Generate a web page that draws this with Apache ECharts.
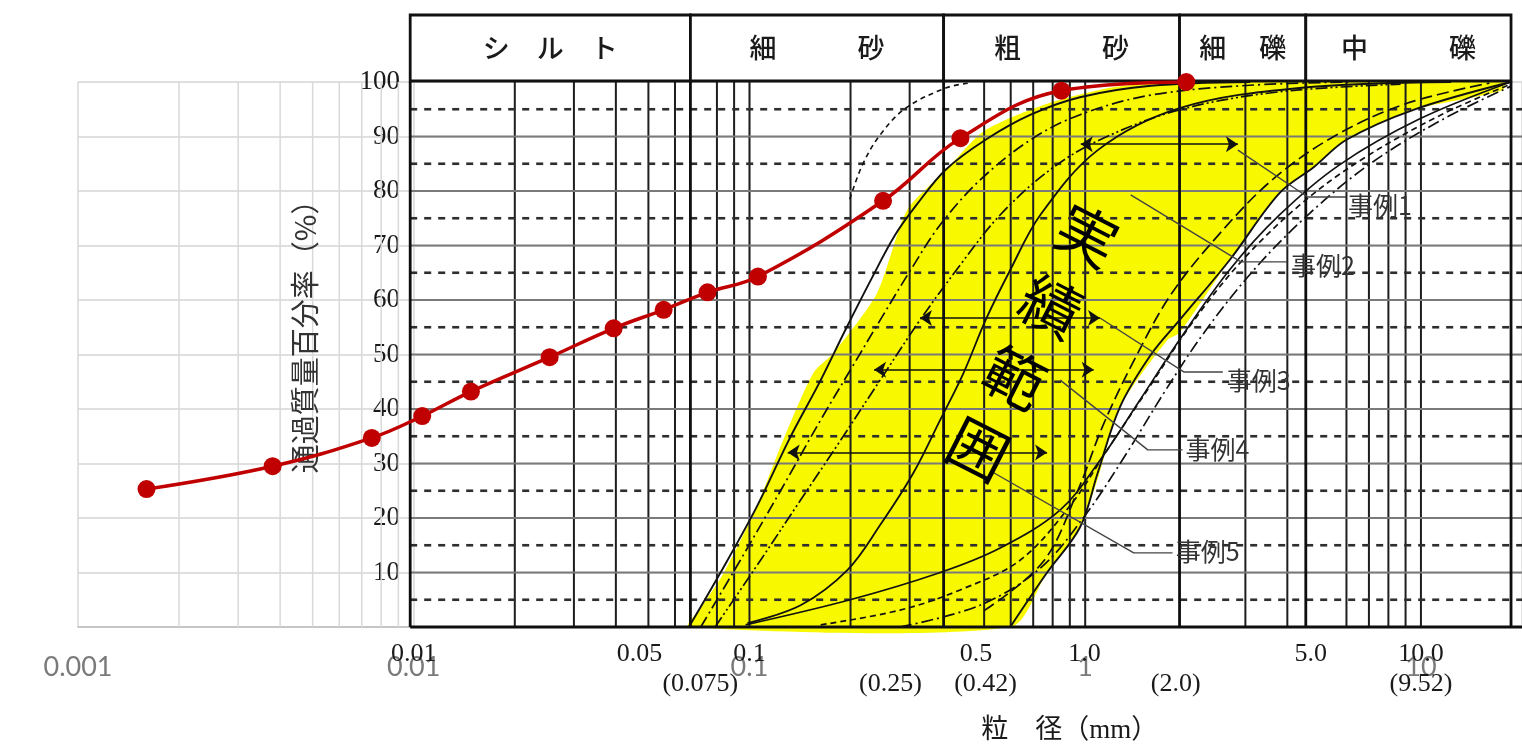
<!DOCTYPE html>
<html><head><meta charset="utf-8">
<script src="https://cdn.jsdelivr.net/npm/echarts@6/dist/echarts.min.js"></script>
<style>html,body{margin:0;padding:0;background:#fff}#c{width:1522px;height:747px}</style>
</head><body><div id="c"></div>
<script>
// ---------------- DATA ----------------
const X_MIN = 0.001, X_MAX = 20;

// measured sample (red line): particle size (mm) / percent passing
const sampleSize    = [0.0016,0.0038,0.0075,0.0106,0.0148,0.0254,0.0394,0.0555,0.075,0.106,0.25,0.425,0.85,2.0];
const samplePassing = [25.3,29.5,34.7,38.7,43.2,49.5,54.8,58.2,61.4,64.3,78.2,89.7,98.4,100];

// yellow "実績範囲" band outline (left edge up, top, right edge down)
const bandSize    = [0.066,0.072,0.084,0.105,0.126,0.155,0.178,0.24,0.295,0.386,0.5,0.77,1.2,1.9,3.1,3.4,9,15,17.8,17.5,9.5,6.0,4.8,3.79,2.69,1.91,1.76,1.27,1.1,0.965,0.77,0.6];
const bandPassing = [0,3.7,10,22,34.3,46.6,50.3,61.3,76.5,83.9,91,96,99,100,100,101.5,101.5,101.5,100.5,98.5,94.9,89.4,84.4,79.6,67.3,54,52.7,40.4,28,18.3,10,0];

// case curves (事例): [size mm, passing %]
const curveLeftSolid   = [[0.066,0],[0.082,10],[0.105,22],[0.131,34.3],[0.163,45.3],[0.193,54.5],[0.23,63.7],[0.272,72],[0.314,77.4],[0.384,83.9],[0.505,89.4],[0.688,94],[0.965,97.2],[1.57,99.3],[3.1,100]];
const curveFineDashed  = [[0.199,78.5],[0.217,84.8],[0.245,90.3],[0.292,95.2],[0.384,98.9],[0.45,99.8]];
const curveDashDot1    = [[0.0716,0],[0.094,12.3],[0.124,25.1],[0.163,38],[0.2,47.2],[0.245,56.3],[0.302,65.5],[0.37,73.8],[0.486,82],[0.688,89.4],[0.965,94],[1.57,97.6],[3.09,99.4],[6.2,100]];
const curveDashDot2    = [[0.079,0],[0.108,12.3],[0.142,23.3],[0.187,34.3],[0.245,45.3],[0.322,56.3],[0.424,66.4],[0.558,75.6],[0.786,83.9],[1.107,89.4],[1.91,94.9],[3.79,98.2],[8.7,99.6]];
const curveMidSolid    = [[0.0986,0.7],[0.142,4],[0.196,10.5],[0.245,18.7],[0.308,28.3],[0.37,38],[0.434,46.6],[0.505,56.3],[0.598,65.5],[0.735,75.6],[1.09,87.5],[1.91,95.2],[4.35,98.9],[12.3,100]];
const curveLowSolid    = [[0.0974,0.4],[0.1995,5],[0.37,10],[0.558,14.5],[0.843,21.5],[1.107,30.6],[1.454,41.6],[1.91,52.7],[2.69,65.5],[3.79,75.6],[5.72,84.8],[9.89,93.2],[18.5,100]];
const curveRightDashed = [[0.163,0.4],[0.281,3.1],[0.424,6.8],[0.641,12.3],[0.905,22.4],[1.19,33.4],[1.567,44.4],[2.06,55.4],[2.91,67],[4.35,77.4],[6.63,85.7],[11.5,94],[18.5,99.6]];
const curveRightLong   = [[0.5,3],[0.75,12],[0.95,25],[1.13,37],[1.4,49],[1.8,61],[2.5,72],[3.6,82],[5.5,90],[9,96],[16,99.8]];
const curveRightDashDot= [[0.281,0],[0.486,4],[0.735,10.8],[1.003,20.6],[1.32,31.6],[1.738,43.5],[2.29,54.5],[3.22,65.9],[4.7,76.1],[7.1,85.1],[11.5,93],[18.5,99.2]];
const curveRightSolid  = [[0.598,0],[0.77,10],[0.965,18.3],[1.09,28.3],[1.27,40.4],[1.567,49.9],[1.91,56.3],[2.69,67.3],[3.79,79.6],[4.8,84.4],[6.0,89.4],[9.5,94.9],[18.5,100]];

// double-headed range arrows
const arrowY    = [88.6, 56.7, 47.2, 32.0];
const arrowFrom = [0.97, 0.322, 0.235, 0.13];
const arrowTo   = [2.85, 1.107, 1.06, 0.77];

// 事例 labels and leader lines
const caseNames = ['事例1','事例2','事例3','事例4','事例5'];
const caseLabelX = [6.06, 4.10, 2.64, 1.99, 1.86];
const caseLabelY = [77.4, 66.4, 45.3, 32.5, 13.8];
const leader1 = [[2.85,87.5],[4.6,78.9],[5.98,78.9]];
const leader2 = [[1.366,79.3],[2.91,67.0],[4.0,67.0]];
const leader3 = [[1.107,56.7],[1.966,46.8],[2.57,46.8]];
const leader4 = [[0.843,45.3],[1.536,32.5],[1.95,32.5]];
const leader5 = [[0.534,28.3],[1.395,13.6],[1.82,13.6]];

// grid lines of the scanned chart
const excelMinorX = [0.002,0.003,0.004,0.005,0.006,0.007,0.008,0.009];
const scanMinorX  = [0.02,0.03,0.04,0.05,0.06,0.08,0.09,0.1,0.2,0.3,0.5,0.6,0.7,0.8,0.9,1,3,4,6,7,8,9,10];
const zoneBounds  = [0.00976,0.0667,0.3787,1.91,4.54,18.55];
const zoneNames   = ['シ　ル　ト','細　　　砂','粗　　　砂','細　 礫','中　　　礫'];
const scanSolidY  = [10,20,30,40,50,60,70,80,90];
const scanDashY   = [5,15,25,35,45,55,65,75,85,95];

// tick labels
const excelTickValues = [0.001,0.01,0.1,1,10];
const excelTickText   = ['0.001','0.01','0.1','1','10'];
const scanRow1Values  = [0.01,0.047,0.1,0.473,0.996,4.7,10];
const scanRow1Text    = ['0.01','0.05','0.1','0.5','1.0','5.0','10.0'];
const scanRow2Values  = [0.0714,0.263,0.505,1.86,10.0];
const scanRow2Text    = ['(0.075)','(0.25)','(0.42)','(2.0)','(9.52)'];

// titles / big annotation
const yTitle = '通過質量百分率（%）';
const yTitlePos = [0.00475, 54.6];
const xTitle = '粒　径（mm）';
const xTitlePos = [0.899, -19.0];
const rangeText = '実\n績\n範\n囲';
const rangeTextPos = [0.698, 52.3];

// ---------------- CHART ----------------
const chart = echarts.init(document.getElementById('c'));

function labelFor(v, vals, texts) {
  let best = 0, bd = Infinity;
  vals.forEach((x, i) => { const d = Math.abs(Math.log10(x) - Math.log10(v)); if (d < bd) { bd = d; best = i; } });
  return texts[best];
}

const segs = [];
excelMinorX.forEach(x => segs.push([x, 0, x, 100, 0]));
scanMinorX.forEach(x => segs.push([x, 0, x, 100, 1]));
scanSolidY.forEach(y => segs.push([zoneBounds[0], y, X_MAX, y, 2]));
scanDashY.forEach(y => segs.push([zoneBounds[0], y, X_MAX, y, 3]));
zoneBounds.forEach(x => segs.push([x, 0, x, 100, 4]));
segs.push([zoneBounds[0], 0, X_MAX, 0, 5]);
const segStyles = [
  {stroke:'#d9d9d9', lineWidth:1.5},
  {stroke:'#1e1e1e', lineWidth:2},
  {stroke:'#7a7a7a', lineWidth:2},
  {stroke:'#2e2e2e', lineWidth:2.6, lineDash:[7,7]},
  {stroke:'#0e0e0e', lineWidth:2.8},
  {stroke:'#0e0e0e', lineWidth:3.2}
];

function curve(data, dash, width) {
  return {type:'line', xAxisIndex:0, yAxisIndex:0, data, smooth:0.35, symbol:'none', showSymbol:false,
    lineStyle:{color:'#111', width: width || 1.7, type: dash}, z:4, silent:true};
}
function leader(data) {
  return {type:'line', xAxisIndex:0, yAxisIndex:0, data, smooth:false, symbol:'none', showSymbol:false,
    lineStyle:{color:'#444', width:1.4}, z:4, silent:true};
}
function textSeries(items, font, fill, rot, align, z) {
  return {type:'custom', xAxisIndex:0, yAxisIndex:0, silent:true, z: z || 6,
    data: items.map((it, i) => [it[0], it[1], i]),
    renderItem: (params, api) => {
      const p = api.coord([api.value(0), api.value(1)]);
      const it = items[api.value(2)];
      return {type:'text', x:p[0], y:p[1], rotation: rot * Math.PI / 180,
        style:{text: it[2], font, fill, align: align || 'center', verticalAlign:'middle', lineHeight: it[3] || undefined}};
    }};
}

const option = {
  animation: false,
  backgroundColor: '#ffffff',
  grid: [
    {left:78, right:0, top:82, height:545, containLabel:false, outerBoundsMode:'none'},
    {left:78, right:0, top:15, height:66, containLabel:false, outerBoundsMode:'none'}
  ],
  xAxis: [
    {gridIndex:0, type:'log', logBase:10, min:X_MIN, max:X_MAX, position:'bottom',
      axisLine:{show:true, lineStyle:{color:'#bfbfbf', width:1.5}}, axisTick:{show:false},
      splitLine:{show:true, lineStyle:{color:'#d9d9d9', width:1.5}}, minorSplitLine:{show:false},
      axisLabel:{customValues: excelTickValues, formatter: v => labelFor(v, excelTickValues, excelTickText),
        color:'#7a7a7a', fontFamily:'Lato', fontSize:27, margin:27}},
    {gridIndex:0, type:'log', logBase:10, min:X_MIN, max:X_MAX, position:'bottom',
      axisLine:{show:false}, axisTick:{show:false}, splitLine:{show:false},
      axisLabel:{customValues: scanRow1Values, formatter: v => labelFor(v, scanRow1Values, scanRow1Text),
        color:'#1a1a1a', fontFamily:'Liberation Serif', fontSize:26, margin:14}},
    {gridIndex:0, type:'log', logBase:10, min:X_MIN, max:X_MAX, position:'bottom',
      axisLine:{show:false}, axisTick:{show:false}, splitLine:{show:false},
      axisLabel:{customValues: scanRow2Values, formatter: v => labelFor(v, scanRow2Values, scanRow2Text),
        color:'#1a1a1a', fontFamily:'Liberation Serif', fontSize:26, margin:44}},
    {gridIndex:1, type:'log', logBase:10, min:X_MIN, max:X_MAX, show:false}
  ],
  yAxis: [
    {gridIndex:0, type:'value', min:0, max:100, interval:10, axisLine:{show:false}, axisTick:{show:false},
      axisLabel:{show:false}, splitLine:{show:true, lineStyle:{color:'#d4d4d4', width:1.5}}},
    {gridIndex:0, type:'value', min:0, max:100, interval:10, position:'left', offset:-330,
      axisLine:{show:false}, axisTick:{show:false}, splitLine:{show:false},
      axisLabel:{color:'#1a1a1a', fontFamily:'Liberation Serif', fontSize:27, margin:8, formatter: v => v === 0 ? '' : String(v)}},
    {gridIndex:1, type:'value', min:0, max:1, show:false}
  ],
  series: [
    // yellow band
    {type:'custom', xAxisIndex:0, yAxisIndex:0, silent:true, z:1,
      data:[[bandSize[0], bandPassing[0]]],
      renderItem: (params, api) => {
        const pts = bandSize.map((x, i) => api.coord([x, bandPassing[i]]));
        return {type:'polygon', shape:{points:pts, smooth:0.25}, style:{fill:'#f8f800'}};
      }},
    // grid lines of the scan
    {type:'custom', xAxisIndex:0, yAxisIndex:0, silent:true, z:2,
      encode:{x:[0,2], y:[1,3]}, data: segs,
      renderItem: (params, api) => {
        const a = api.coord([api.value(0), api.value(1)]);
        const b = api.coord([api.value(2), api.value(3)]);
        const s = segStyles[api.value(4)];
        return {type:'line', shape:{x1:a[0], y1:a[1], x2:b[0], y2:b[1]}, style:Object.assign({fill:null}, s)};
      }},
    // header zones
    {type:'custom', xAxisIndex:3, yAxisIndex:2, silent:true, z:2,
      data: zoneNames.map((n, i) => [zoneBounds[i], zoneBounds[i+1], i]),
      renderItem: (params, api) => {
        const a = api.coord([api.value(0), 1]);
        const b = api.coord([api.value(1), 0]);
        return {type:'group', children:[
          {type:'rect', shape:{x:a[0], y:a[1], width:b[0]-a[0], height:b[1]-a[1]},
            style:{fill:'#fff', stroke:'#111', lineWidth:2.8}},
          {type:'text', x:(a[0]+b[0])/2, y:(a[1]+b[1])/2,
            style:{text: zoneNames[api.value(2)], font:'500 27px "Noto Sans CJK JP"', fill:'#1a1a1a', align:'center', verticalAlign:'middle'}}
        ]};
      }},
    // case curves
    curve(curveLeftSolid, 'solid', 1.9),
    curve(curveFineDashed, [5,4], 1.6),
    curve(curveDashDot1, [12,4,2,4], 1.7),
    curve(curveDashDot2, [12,3,2,3,2,3], 1.7),
    curve(curveMidSolid, 'solid', 1.8),
    curve(curveLowSolid, 'solid', 1.7),
    curve(curveRightDashed, [6,4], 1.7),
    curve(curveRightLong, [12,5], 1.7),
    curve(curveRightDashDot, [12,4,2,4], 1.7),
    curve(curveRightSolid, 'solid', 1.9),
    // leaders
    leader(leader1), leader(leader2), leader(leader3), leader(leader4), leader(leader5),
    // arrows
    {type:'line', xAxisIndex:0, yAxisIndex:0, data:[], silent:true, z:5,
      markLine:{silent:true, animation:false, symbol:['arrow','arrow'], symbolSize:12,
        lineStyle:{color:'#111', width:1.6, type:'solid'}, label:{show:false},
        data: arrowY.map((y, i) => [{coord:[arrowFrom[i], y]}, {coord:[arrowTo[i], y]}])}},
    // texts
    textSeries(caseNames.map((n, i) => [caseLabelX[i], caseLabelY[i], n]), '25px "Noto Sans CJK JP"', '#333', 0, 'left'),
    textSeries([[rangeTextPos[0], rangeTextPos[1], rangeText, 80]], '60px "Noto Sans CJK JP"', '#000', -27, 'center', 7),
    textSeries([[yTitlePos[0], yTitlePos[1], yTitle]], '29px "Noto Sans CJK JP"', '#333', 90, 'center'),
    textSeries([[xTitlePos[0], xTitlePos[1], xTitle]], '27px "Liberation Serif","Noto Sans CJK JP"', '#1a1a1a', 0, 'center'),
    // red measured curve
    {type:'line', xAxisIndex:0, yAxisIndex:0, name:'sample',
      data: sampleSize.map((x, i) => [x, samplePassing[i]]),
      smooth:0.4, symbol:'circle', symbolSize:18, showSymbol:true,
      itemStyle:{color:'#c00000'}, lineStyle:{color:'#c00000', width:3.5}, z:10, silent:true}
  ]
};
chart.setOption(option);
</script>
</body></html>
